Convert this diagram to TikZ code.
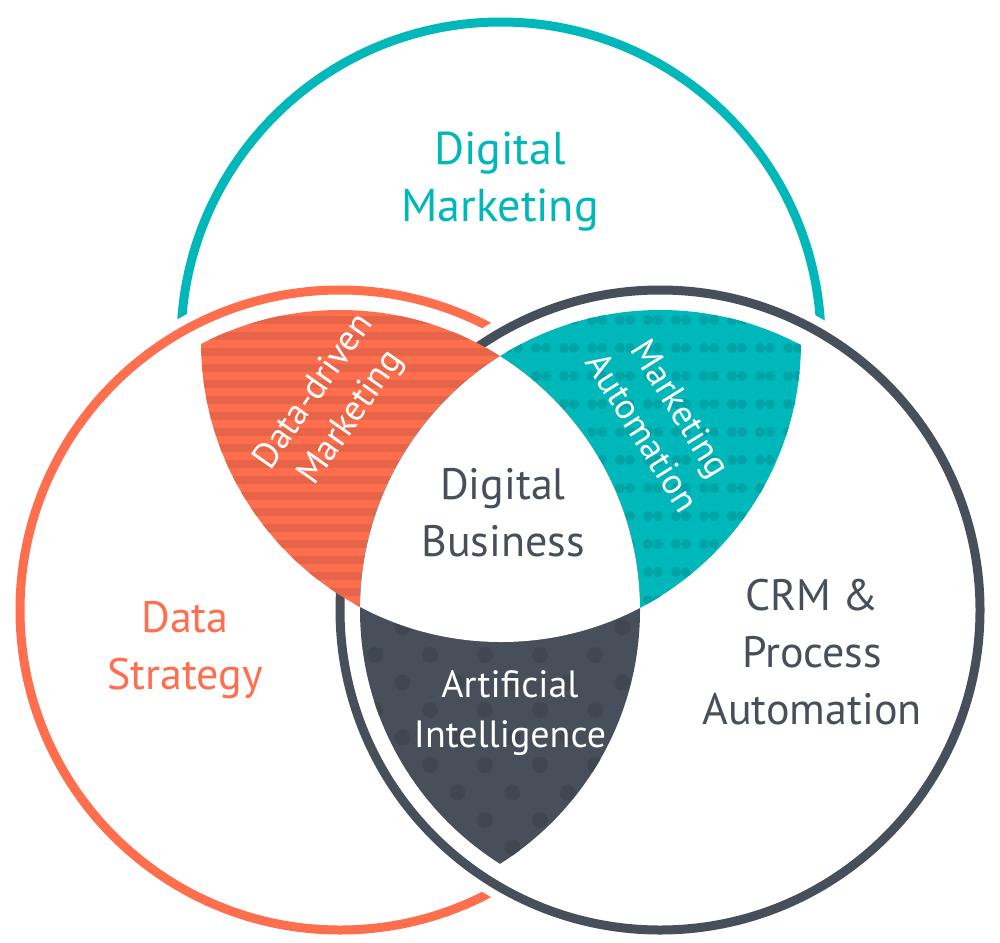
\documentclass[tikz,border=0pt]{standalone}
\usepackage{fontspec}
\setmainfont{PT Sans}
\definecolor{cteal}{HTML}{00B7B9}
\definecolor{cteald}{HTML}{00A4A7}
\definecolor{corange}{HTML}{FF6F4D}
\definecolor{corangd}{HTML}{E66548}
\definecolor{cdark}{HTML}{474F5A}
\definecolor{cdarkd}{HTML}{404751}
\begin{document}
\begin{tikzpicture}[x=1pt,y=-1pt,
  ring/.style={line width=9pt},
  lbl/.style={align=center,font=\fontsize{44}{57}\selectfont}]
\useasboundingbox (0,0) rectangle (1000,942);
\coordinate (T) at (501,342);
\coordinate (O) at (340,610);
\coordinate (D) at (660,610);
% rings
\draw[ring,cteal,fill=white] (T) circle[radius=320pt];
\fill[white] (O) circle[radius=333pt];
\draw[ring,corange] (O) circle[radius=320pt];
\fill[white] (D) circle[radius=333pt];
\draw[ring,cdark] (D) circle[radius=320pt];
% orange lens
\begin{scope}
\clip (T) circle[radius=300pt];
\clip (O) circle[radius=300pt];
\fill[corange] (0,0) rectangle (1000,942);
\foreach \y in {300,316,...,620} \fill[corangd] (0,\y) rectangle (1000,\y+8);
\end{scope}
% teal lens
\begin{scope}
\clip (T) circle[radius=300pt];
\clip (D) circle[radius=300pt];
\fill[cteal] (0,0) rectangle (1000,942);
\foreach \x in {480,508,...,860} \foreach \y in {320,348,...,640}
  {\fill[cteald] (\x,\y) circle[radius=5pt] (\x+10,\y) circle[radius=5pt];}
\end{scope}
% dark lens
\begin{scope}
\clip (O) circle[radius=300pt];
\clip (D) circle[radius=300pt];
\fill[cdark] (0,0) rectangle (1000,942);
\foreach \x in {320,375,...,700} \foreach \y in {600,655,...,900}
  {\fill[cdarkd] (\x,\y) circle[radius=8pt] (\x+27.5,\y+27.5) circle[radius=8pt];}
\end{scope}
% centre
\begin{scope}
\clip (T) circle[radius=300pt];
\clip (O) circle[radius=300pt];
\fill[white] (D) circle[radius=300pt];
\end{scope}
% labels
\node[lbl,text=cteal,font=\fontsize{46}{57}\selectfont] (dm) at (500,182) {Digital\\Marketing};
\node[lbl,text=cdark] (db) at (503,513) {Digital\\Business};
\node[lbl,text=corange] (ds) at (185,650) {Data\\Strategy};
\node[lbl,text=cdark] (crm) at (812,652) {CRM \&\\Process\\Automation};
\node[lbl,text=white,font=\fontsize{38}{50}\selectfont] (ai) at (510,713) {Artificial\\Intelligence};
\node[lbl,text=white,font=\fontsize{36}{45}\selectfont,rotate=55] (ddm) at (333,405) {Data-driven\\Marketing};
\node[lbl,text=white,font=\fontsize{36}{45}\selectfont,rotate=-58] (ma) at (662,420) {Marketing\\Automation};
\end{tikzpicture}
\end{document}
